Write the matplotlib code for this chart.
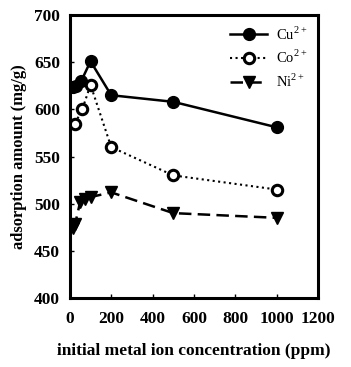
import numpy as np
import matplotlib.pyplot as plt

plt.rcParams['font.family'] = 'Liberation Serif'
plt.rcParams['mathtext.fontset'] = 'custom'
plt.rcParams['mathtext.rm'] = 'Liberation Serif'

# data
cu_x = [15, 30, 55, 100, 200, 500, 1000]
cu_y = [624, 625, 630, 651, 615, 608, 581]
co_x = [25, 60, 100, 200, 500, 1000]
co_y = [585, 600, 626, 560, 530, 515]
ni_x = [15, 25, 50, 75, 100, 200, 500, 1000]
ni_y = [474, 478, 502, 505, 507, 512, 490, 485]

fig = plt.figure(figsize=(3.51, 3.67), dpi=100)
ax = fig.add_axes([0.199, 0.188, 0.707, 0.771])

ax.plot(cu_x, cu_y, '-', color='black', lw=1.8, marker='o', ms=8.5, label='Cu$^{2+}$')
ax.plot(co_x, co_y, ':', color='black', lw=1.5, marker='o', ms=7.5, mfc='white', mew=2.2, label='Co$^{2+}$')
ax.plot(ni_x, ni_y, '--', color='black', lw=1.8, marker='v', ms=8.5, label='Ni$^{2+}$', dashes=(5, 2.5))

ax.set_xlim(0, 1200)
ax.set_ylim(400, 700)
ax.set_xticks(np.arange(0, 1201, 200))
ax.set_yticks(np.arange(400, 701, 50))
ax.tick_params(direction='in', length=3, width=1, labelsize=12.5)
ax.tick_params(axis='x', pad=9)
ax.tick_params(axis='y', pad=7)
for lab in ax.get_xticklabels() + ax.get_yticklabels():
    lab.set_fontweight('bold')
for s in ax.spines.values():
    s.set_linewidth(2.2)

ax.set_xlabel('initial metal ion concentration (ppm)', fontsize=12.5, fontweight='bold', labelpad=12)
ax.set_ylabel('adsorption amount (mg/g)', fontsize=12, fontweight='bold', labelpad=5)

ax.legend(loc='upper right', frameon=False, fontsize=10.5, handlelength=2.6,
          labelspacing=0.45, borderaxespad=0.3, handletextpad=0.6)

fig.savefig('out.png', dpi=100)
